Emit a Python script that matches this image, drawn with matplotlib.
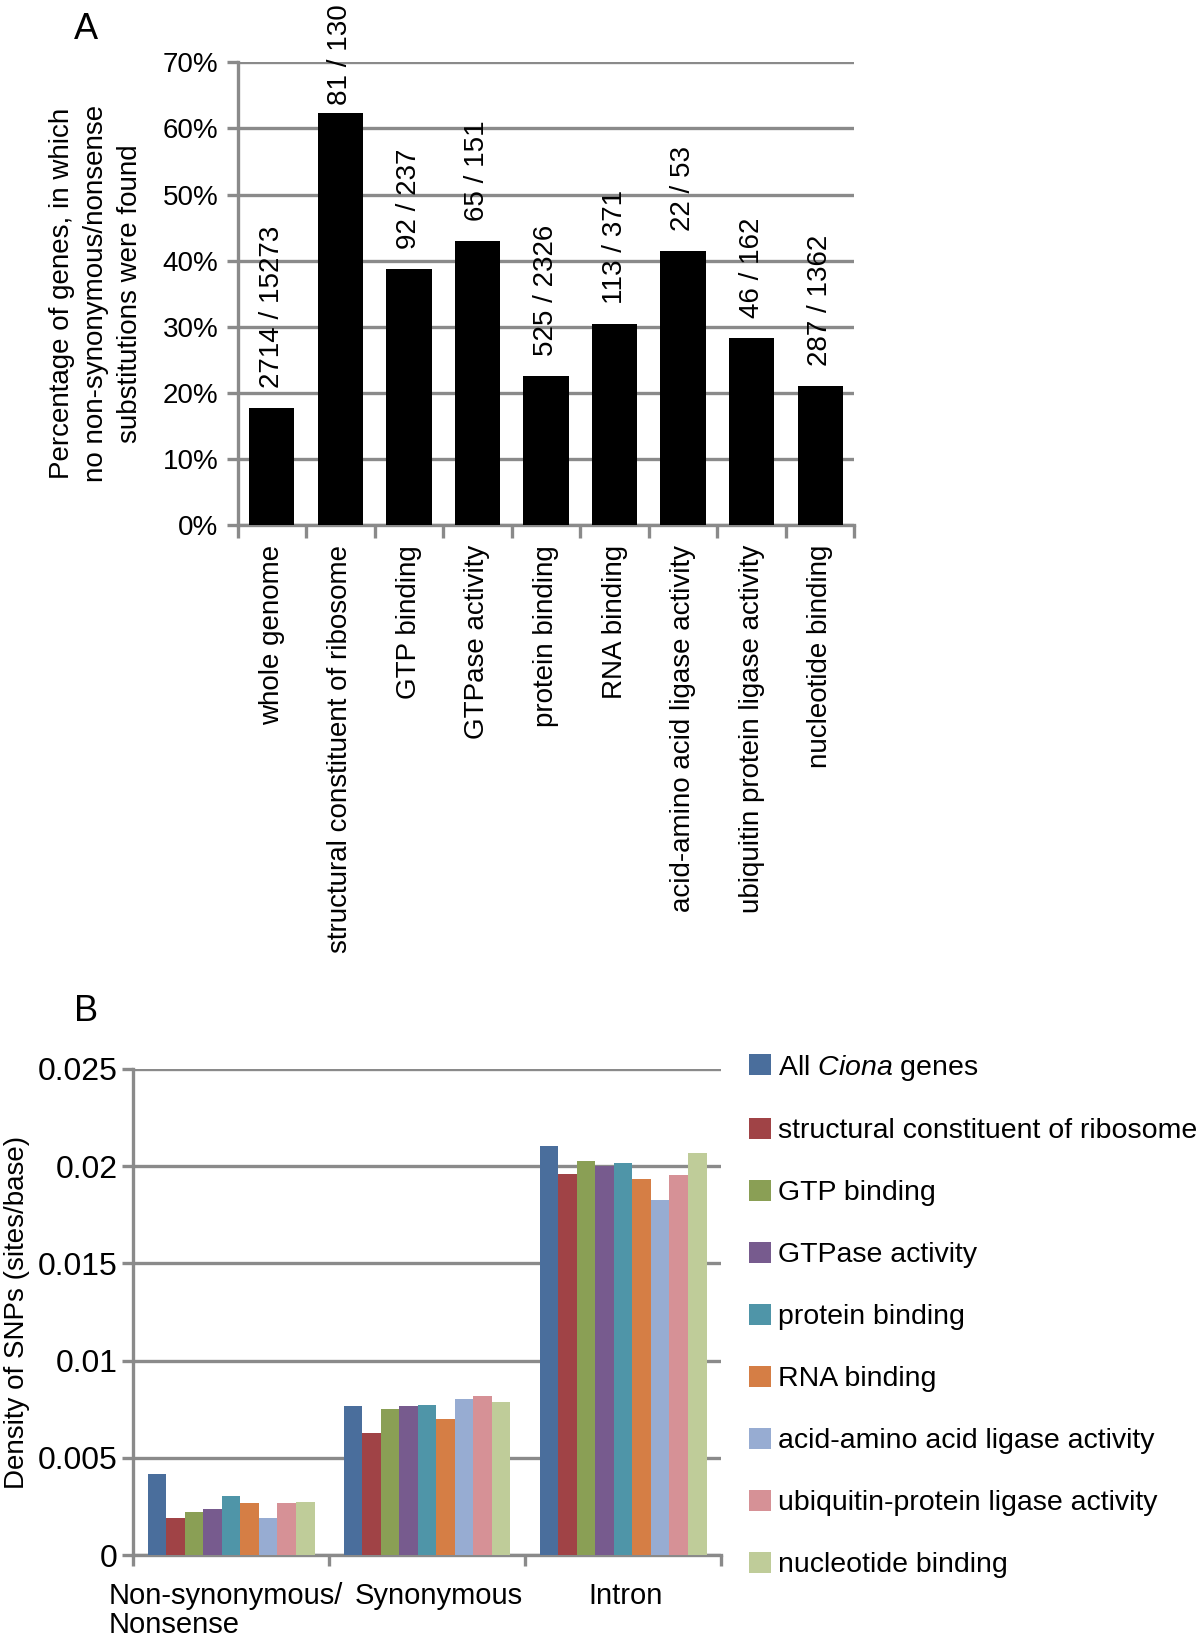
import numpy as np
import matplotlib
matplotlib.use("Agg")
import matplotlib.pyplot as plt
import matplotlib.transforms as mtransforms
from matplotlib.patches import Patch
from matplotlib.ticker import FixedLocator

plt.rcParams['font.family'] = ['Liberation Sans', 'DejaVu Sans']
plt.rcParams['mathtext.fontset'] = 'custom'
plt.rcParams['mathtext.rm'] = 'Liberation Sans'
plt.rcParams['mathtext.it'] = 'Liberation Sans:italic'

# ============================================================
# DATA — panel A
# ============================================================
a_categories = ['whole genome', 'structural constituent of ribosome', 'GTP binding',
                'GTPase activity', 'protein binding', 'RNA binding',
                'acid-amino acid ligase activity', 'ubiquitin protein ligase activity',
                'nucleotide binding']
a_percent = [17.8, 62.3, 38.8, 43.0, 22.6, 30.5, 41.5, 28.4, 21.1]
a_counts = ['2714 / 15273', '81 / 130', '92 / 237', '65 / 151', '525 / 2326',
            '113 / 371', '22 / 53', '46 / 162', '287 / 1362']
a_yticks = [0, 10, 20, 30, 40, 50, 60, 70]
a_yticklabels = ['0%', '10%', '20%', '30%', '40%', '50%', '60%', '70%']

# ============================================================
# DATA — panel B
# ============================================================
b_groups = ['Non-synonymous/\nNonsense', 'Synonymous', 'Intron']
b_series = ['All $\\it{Ciona}$ genes', 'structural constituent of ribosome', 'GTP binding',
            'GTPase activity', 'protein binding', 'RNA binding',
            'acid-amino acid ligase activity', 'ubiquitin-protein ligase activity',
            'nucleotide binding']
b_nonsyn = [0.00417, 0.00191, 0.00221, 0.00235, 0.00303, 0.00266, 0.00191, 0.00266, 0.00273]
b_syn    = [0.00765, 0.00626, 0.00753, 0.00765, 0.00773, 0.00699, 0.00804, 0.00819, 0.00787]
b_intron = [0.02103, 0.01962, 0.02028, 0.02001, 0.02014, 0.01935, 0.01828, 0.01955, 0.02067]
b_yticks = [0, 0.005, 0.01, 0.015, 0.02, 0.025]
b_yticklabels = ['0', '0.005', '0.01', '0.015', '0.02', '0.025']
b_colors = ['#4a6e9c', '#a04346', '#8a9f55', '#775b8e', '#4f95a8', '#d57e45',
            '#97acd2', '#d69196', '#bfcc99']

GRID = '#8a8a8a'
FS = 20

fig = plt.figure(figsize=(12, 16.37), dpi=100)

# ============================================================
# PANEL A
# ============================================================
axA = fig.add_axes([0.198, 0.679, 0.514, 0.283])
xa = np.arange(len(a_categories))
axA.bar(xa, a_percent, width=0.66, color='black', zorder=3)
axA.set_xlim(-0.5, len(a_categories) - 0.5)
axA.set_ylim(0, 70)
axA.set_yticks(a_yticks)
axA.set_yticklabels(a_yticklabels, fontsize=FS)
axA.yaxis.grid(True, color=GRID, linewidth=2.4, zorder=0)
axA.set_xticks(xa)
axA.set_xticklabels(a_categories, rotation=90, fontsize=FS, va='top')
axA.tick_params(axis='x', length=0, pad=14)
axA.xaxis.set_minor_locator(FixedLocator(np.arange(-0.5, len(a_categories), 1.0)))
axA.tick_params(axis='x', which='minor', length=9, width=2.4, color=GRID)
axA.tick_params(axis='y', length=8, width=2.4, color=GRID, pad=6)
for s in ['top', 'right']:
    axA.spines[s].set_visible(False)
for s in ['left', 'bottom']:
    axA.spines[s].set_color(GRID)
    axA.spines[s].set_linewidth(2.4)

for x, v, lab in zip(xa, a_percent, a_counts):
    ty = min(v + 3.0, 63.6)
    axA.text(x, ty, lab, rotation=90, ha='center', va='bottom', fontsize=FS,
             zorder=4, clip_on=False)

axA.set_ylabel('Percentage of genes, in which\nno non-synonymous/nonsense\nsubstitutions were found',
               fontsize=FS, linespacing=1.4, labelpad=14)
fig.text(0.072, 0.982, 'A', fontsize=26, ha='center', va='center')

# ============================================================
# PANEL B
# ============================================================
axB = fig.add_axes([0.111, 0.050, 0.490, 0.297])
b_values = np.array([b_nonsyn, b_syn, b_intron])
n = len(b_series)
bw = 0.85 / n
xg = np.arange(len(b_groups))
for i in range(n):
    axB.bar(xg - 0.425 + bw * (i + 0.5), b_values[:, i], width=bw,
            color=b_colors[i], label=b_series[i], zorder=3)
axB.set_xlim(-0.5, len(b_groups) - 0.5)
axB.set_ylim(0, 0.025)
axB.set_yticks(b_yticks)
axB.set_yticklabels(b_yticklabels, fontsize=23)
axB.yaxis.grid(True, color=GRID, linewidth=2.4, zorder=0)
axB.set_xticks(xg)
axB.set_xticklabels(b_groups, fontsize=21, multialignment='left', linespacing=1.05)
axB.tick_params(axis='x', length=0, pad=19)
axB.xaxis.set_minor_locator(FixedLocator(np.arange(-0.5, len(b_groups), 1.0)))
axB.tick_params(axis='x', which='minor', length=8, width=2.4, color=GRID)
axB.tick_params(axis='y', length=8, width=2.4, color=GRID, pad=3)
for s in ['top', 'right']:
    axB.spines[s].set_visible(False)
for s in ['left', 'bottom']:
    axB.spines[s].set_color(GRID)
    axB.spines[s].set_linewidth(2.4)
# nudge group labels apart as in the original layout
for lbl, dx in zip(axB.get_xticklabels(), [-4, 8, 2]):
    lbl.set_transform(lbl.get_transform() +
                      mtransforms.ScaledTranslation(dx / 72, 0, fig.dpi_scale_trans))
axB.set_ylabel('Density of SNPs (sites/base)', fontsize=FS, labelpad=6)
fig.text(0.072, 0.382, 'B', fontsize=26, ha='center', va='center')

handles = [Patch(facecolor=c, edgecolor='none') for c in b_colors]
fig.legend(handles, b_series, loc='upper left', bbox_to_anchor=(0.615, 0.364),
           frameon=False, fontsize=20.5, handlelength=0.75, handleheight=0.75,
           handletextpad=0.25, labelspacing=1.25, borderaxespad=0)

fig.savefig('out.png', dpi=100)
